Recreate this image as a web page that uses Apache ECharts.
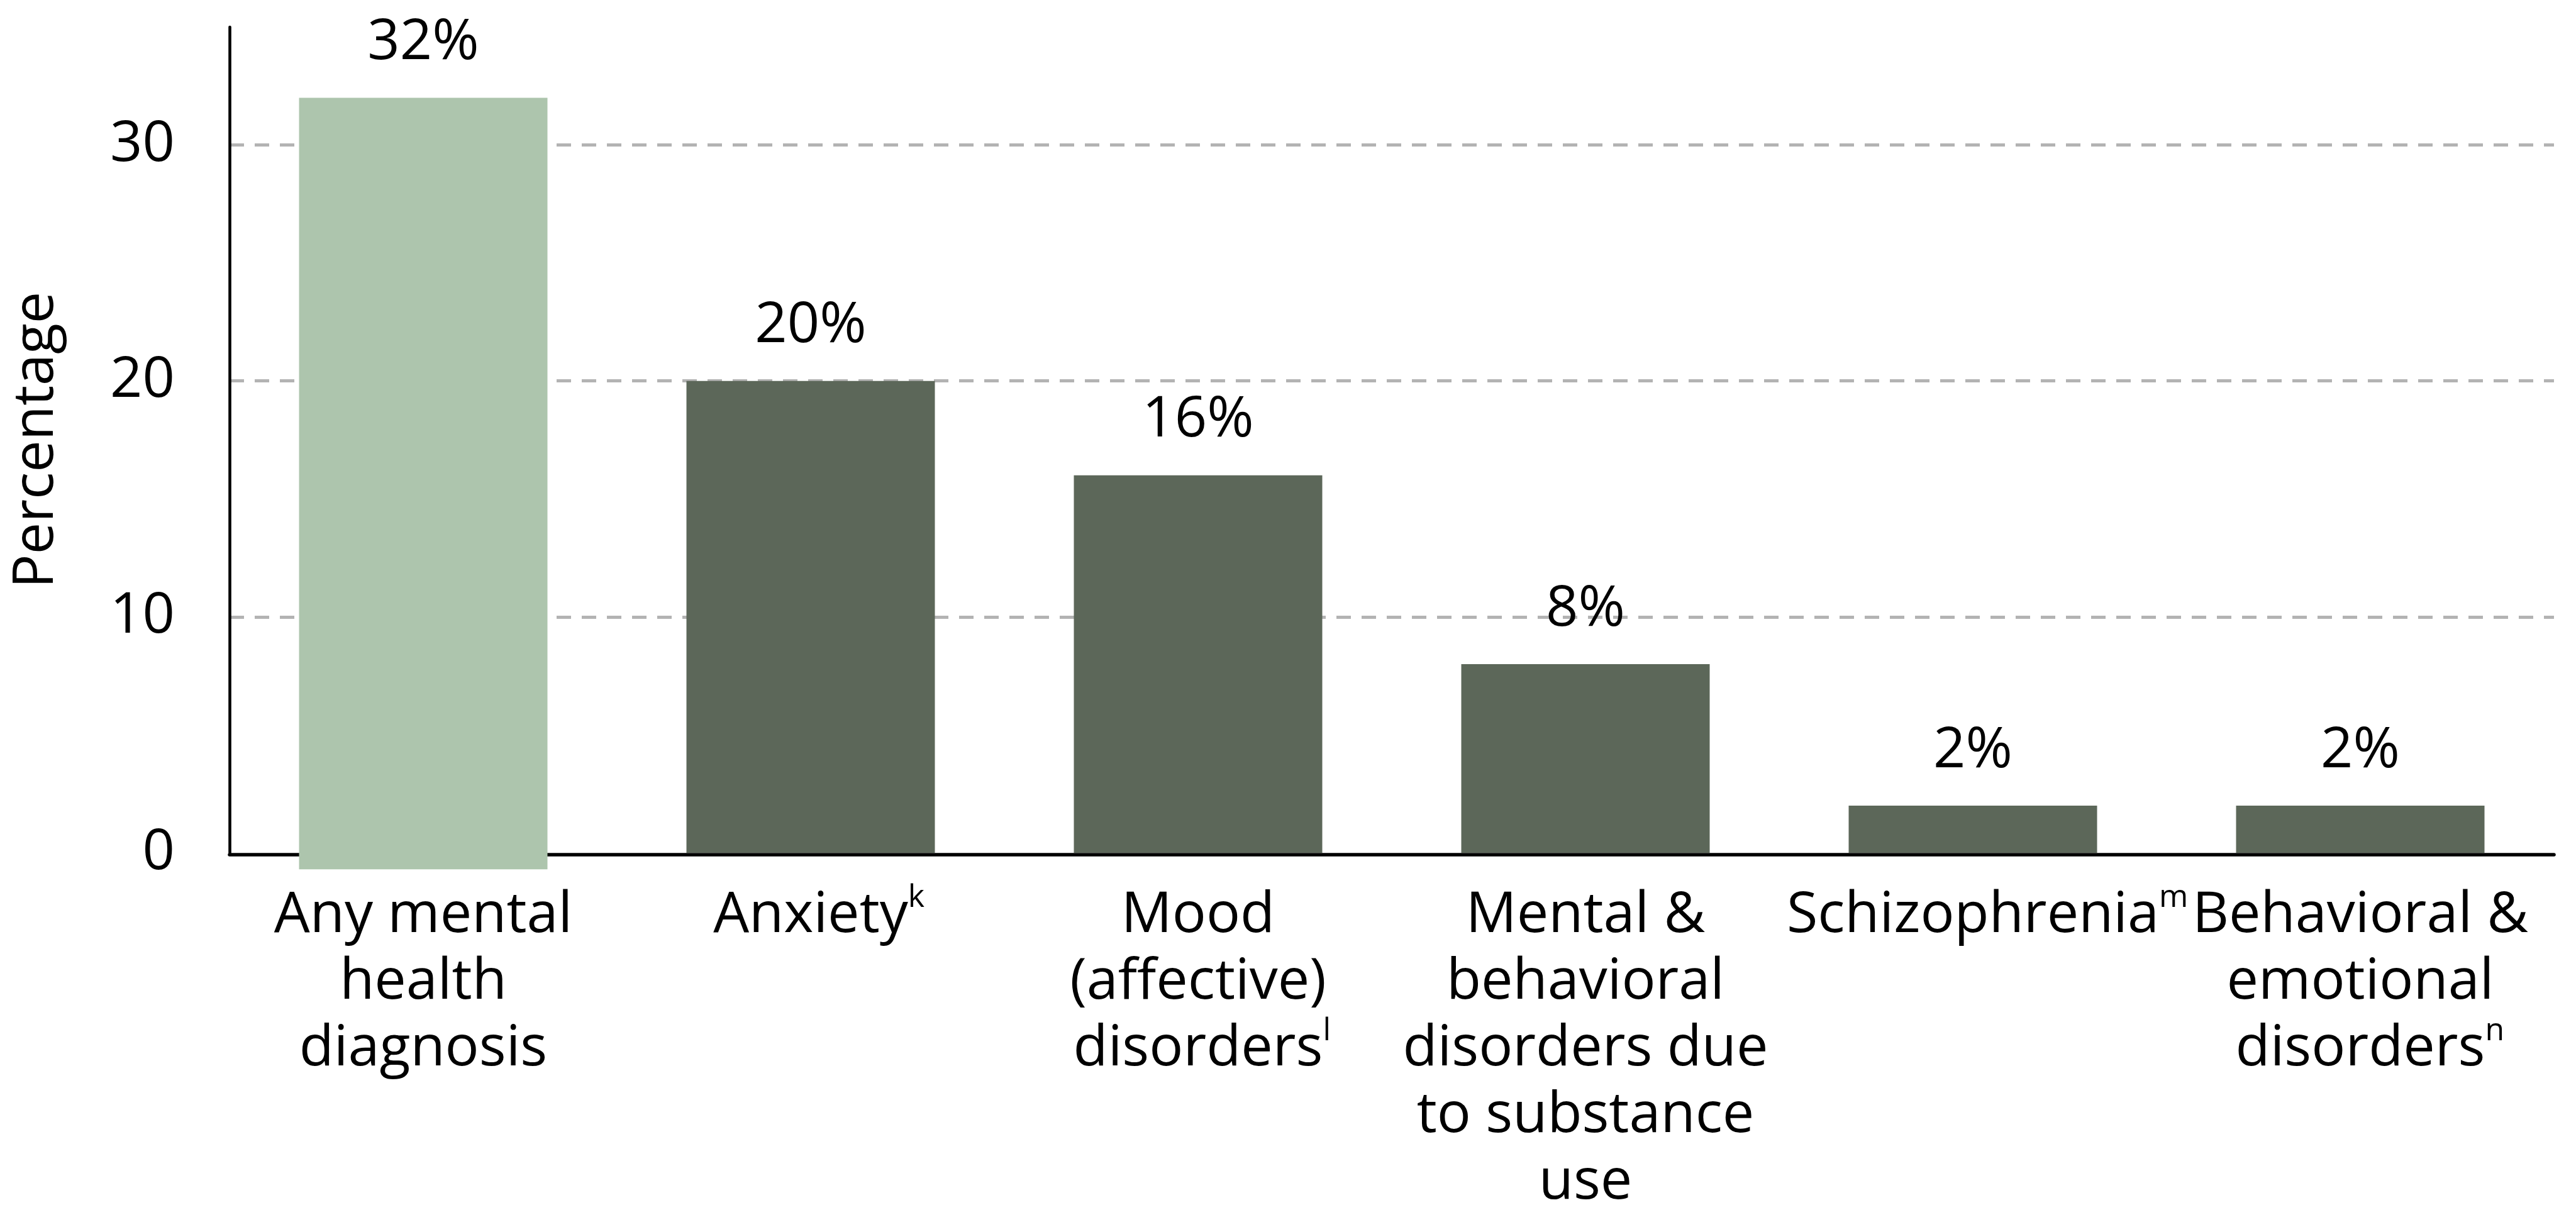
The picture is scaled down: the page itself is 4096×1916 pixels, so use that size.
<!DOCTYPE html>
<html>
<head>
<meta charset="utf-8">
<title>Mental health diagnoses</title>
<script src="https://cdn.jsdelivr.net/npm/echarts@6/dist/echarts.min.js"></script>
<style>
  html, body { margin: 0; padding: 0; background: #ffffff; }
  #chart { width: 4096px; height: 1916px; }
</style>
</head>
<body>
<div id="chart"></div>
<script>
// Category names (line breaks as printed) and their footnote letters
const categories = [
  'Any mental\nhealth\ndiagnosis',
  'Anxiety',
  'Mood\n(affective)\ndisorders',
  'Mental &\nbehavioral\ndisorders due\nto substance\nuse',
  'Schizophrenia',
  'Behavioral &\nemotional\ndisorders'
];
const footnotes = ['', 'k', 'l', '', 'm', 'n'];

// Share of people with each diagnosis (%)
const percentages = [32, 20, 16, 8, 2, 2];

// The summary bar runs a little past the baseline
const summaryDrop = [-0.7, '-', '-', '-', '-', '-'];

// Value-axis ticks
const yTicks = [0, 10, 20, 30];
const yMax = 35;

const FONT = 'Open Sans';
const LIGHT = '#adc5ad';
const DARK = '#5c6759';
const BAR_W = 395;

const chart = echarts.init(document.getElementById('chart'), null, { renderer: 'canvas' });

function categoryLabel(value, idx) {
  const lines = value.split('\n');
  const note = footnotes[idx];
  return lines.map(function (line, i) {
    if (i === lines.length - 1 && note) {
      return '{g|' + note + '}{t|' + line + '}{s|' + note + '}';
    }
    return '{t|' + line + '}';
  }).join('\n');
}

chart.setOption({
  animation: false,
  backgroundColor: '#ffffff',
  textStyle: { fontFamily: FONT },
  grid: {
    left: 365,
    right: 35,
    top: 43,
    bottom: 560,
    containLabel: false,
    outerBoundsMode: 'none'
  },
  xAxis: {
    type: 'category',
    data: categories,
    position: 'bottom',
    offset: 3,
    axisLine: { onZero: false, lineStyle: { color: '#000000', width: 5.5 } },
    axisTick: { show: false },
    axisLabel: {
      interval: 0,
      margin: 44,
      formatter: categoryLabel,
      rich: {
        t: { fontFamily: FONT, fontSize: 90, lineHeight: 106, color: '#000000' },
        s: { fontFamily: FONT, fontSize: 50, lineHeight: 62, verticalAlign: 'top', color: '#000000' },
        g: { fontFamily: FONT, fontSize: 50, lineHeight: 62, verticalAlign: 'top', color: 'rgba(0,0,0,0)' }
      }
    }
  },
  yAxis: {
    type: 'value',
    min: yTicks[0],
    max: yMax,
    interval: yTicks[1] - yTicks[0],
    name: 'Percentage',
    nameLocation: 'middle',
    nameGap: 262,
    nameTextStyle: { fontFamily: FONT, fontSize: 90, color: '#000000' },
    axisLine: { show: true, lineStyle: { color: '#000000', width: 4.6 } },
    axisTick: { show: false },
    axisLabel: {
      margin: 87,
      fontFamily: FONT,
      fontSize: 90,
      lineHeight: 90,
      padding: [0, 0, 28, 0],
      color: '#000000',
      showMaxLabel: false,
      formatter: function (v) { return yTicks.indexOf(v) >= 0 ? String(v) : ''; }
    },
    splitLine: {
      show: true,
      showMinLine: false,
      showMaxLine: false,
      lineStyle: { color: '#b3b3b3', width: 5, type: [23, 17] }
    }
  },
  series: [
    {
      type: 'bar',
      stack: 'total',
      barWidth: BAR_W,
      data: percentages.map(function (v, i) {
        return { value: v, itemStyle: { color: i === 0 ? LIGHT : DARK } };
      }),
      label: {
        show: true,
        position: 'top',
        distance: 42,
        fontFamily: FONT,
        fontSize: 90,
        lineHeight: 90,
        color: '#000000',
        formatter: '{c}%'
      }
    },
    {
      type: 'bar',
      stack: 'total',
      barWidth: BAR_W,
      clip: false,
      itemStyle: { color: LIGHT },
      data: summaryDrop
    }
  ]
});
</script>
</body>
</html>
